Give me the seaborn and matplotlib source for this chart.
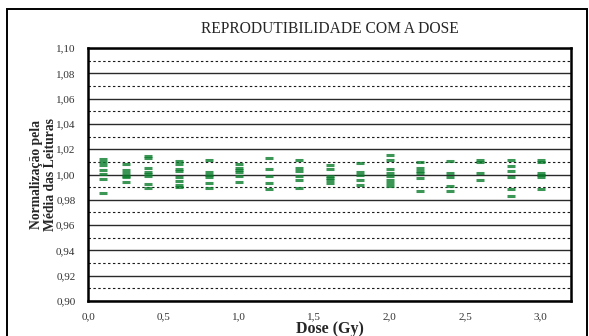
import matplotlib
matplotlib.use("Agg")
import matplotlib.pyplot as plt
from matplotlib.patches import Rectangle
from matplotlib.ticker import FuncFormatter
import pandas as pd
import seaborn as sns

# Doses delivered (Gy) and the normalised readings at each dose
doses = [0.1, 0.25, 0.4, 0.6, 0.8, 1.0, 1.2, 1.4, 1.6, 1.8, 2.0, 2.2, 2.4, 2.6, 2.8, 3.0]
leituras = [
    [1.0126, 1.0100, 1.0074, 1.0039, 1.0005, 0.9968, 0.9850],
    [1.0084, 1.0034, 1.0013, 0.9992, 0.9980, 0.9940],
    [1.0150, 1.0130, 1.0053, 1.0018, 1.0005, 0.9987, 0.9926, 0.9895],
    [1.0105, 1.0084, 1.0047, 1.0026, 0.9980, 0.9947, 0.9920, 0.9900],
    [1.0113, 1.0018, 1.0000, 0.9980, 0.9934, 0.9890],
    [1.0084, 1.0053, 1.0034, 1.0018, 0.9992, 0.9942],
    [1.0129, 1.0045, 0.9987, 0.9929, 0.9882],
    [1.0118, 1.0053, 1.0026, 0.9992, 0.9953, 0.9890],
    [1.0079, 1.0047, 0.9987, 0.9974, 0.9960, 0.9934],
    [1.0087, 1.0021, 0.9995, 0.9953, 0.9916],
    [1.0158, 1.0118, 1.0047, 1.0008, 0.9987, 0.9960, 0.9934, 0.9913],
    [1.0097, 1.0053, 1.0026, 1.0013, 0.9971, 0.9868],
    [1.0105, 1.0008, 0.9980, 0.9908, 0.9868],
    [1.0118, 1.0100, 1.0013, 0.9953],
    [1.0118, 1.0066, 1.0026, 0.9982, 0.9882, 0.9829],
    [1.0113, 1.0100, 1.0013, 1.0000, 0.9980, 0.9882],
]
x_ticks = [0.0, 0.5, 1.0, 1.5, 2.0, 2.5, 3.0]
y_ticks = [0.90, 0.92, 0.94, 0.96, 0.98, 1.00, 1.02, 1.04, 1.06, 1.08, 1.10]
y_minor = [0.91, 0.93, 0.95, 0.97, 0.99, 1.01, 1.03, 1.05, 1.07, 1.09]

df = pd.DataFrame(
    [(d, v) for d, vals in zip(doses, leituras) for v in vals],
    columns=["dose", "valor"],
)

sns.set_theme(style="white")
plt.rcParams["font.family"] = ["Liberation Serif", "DejaVu Serif"]

fig = plt.figure(figsize=(5.89, 3.36), dpi=100)
ax = fig.add_axes([88 / 589, 35 / 336, (571 - 88) / 589, (301 - 48) / 336])

# grid: solid at the labelled values, dashed halfway between
for y in y_ticks:
    ax.axhline(y, color="#2a2a2a", lw=1.0, zorder=1)
for y in y_minor:
    ax.axhline(y, color="#1a1a1a", lw=0.8, ls=(0, (2.2, 2.2)), zorder=1)

sns.scatterplot(
    data=df, x="dose", y="valor", ax=ax, marker="_", s=26,
    linewidth=2.2, color="#0b7d2c", alpha=0.8, zorder=3, legend=False,
)

ax.set_xlim(0, 3.2)
ax.set_ylim(0.90, 1.10)
ax.set_xticks(x_ticks)
ax.set_yticks(y_ticks)
ax.xaxis.set_major_formatter(FuncFormatter(lambda v, p: f"{v:.1f}".replace(".", ",")))
ax.yaxis.set_major_formatter(FuncFormatter(lambda v, p: f"{v:.2f}".replace(".", ",")))
ax.tick_params(axis="both", labelsize=8, colors="#333333", length=0, pad=8)
ax.tick_params(axis="y", length=4, width=0.8, direction="out", pad=5)

for side in ["left", "right", "top", "bottom"]:
    ax.spines[side].set_color("black")
    ax.spines[side].set_linewidth(1.8)

ax.set_xlabel("Dose (Gy)", fontsize=11.5, fontweight="bold", labelpad=0)
ax.set_ylabel("Normalização pela\nMédia das Leituras", fontsize=9.8,
              fontweight="bold", labelpad=-1, linespacing=1.15)
ax.set_title("REPRODUTIBILIDADE COM A DOSE", fontsize=11.2, pad=11)

# chart frame around the whole figure
fig.patches.append(Rectangle((7 / 589, -0.05), (587 - 7) / 589, 1.05 - 9 / 336,
                             transform=fig.transFigure, fill=False,
                             ec="black", lw=1.4))

fig.savefig("out.png", dpi=100)
